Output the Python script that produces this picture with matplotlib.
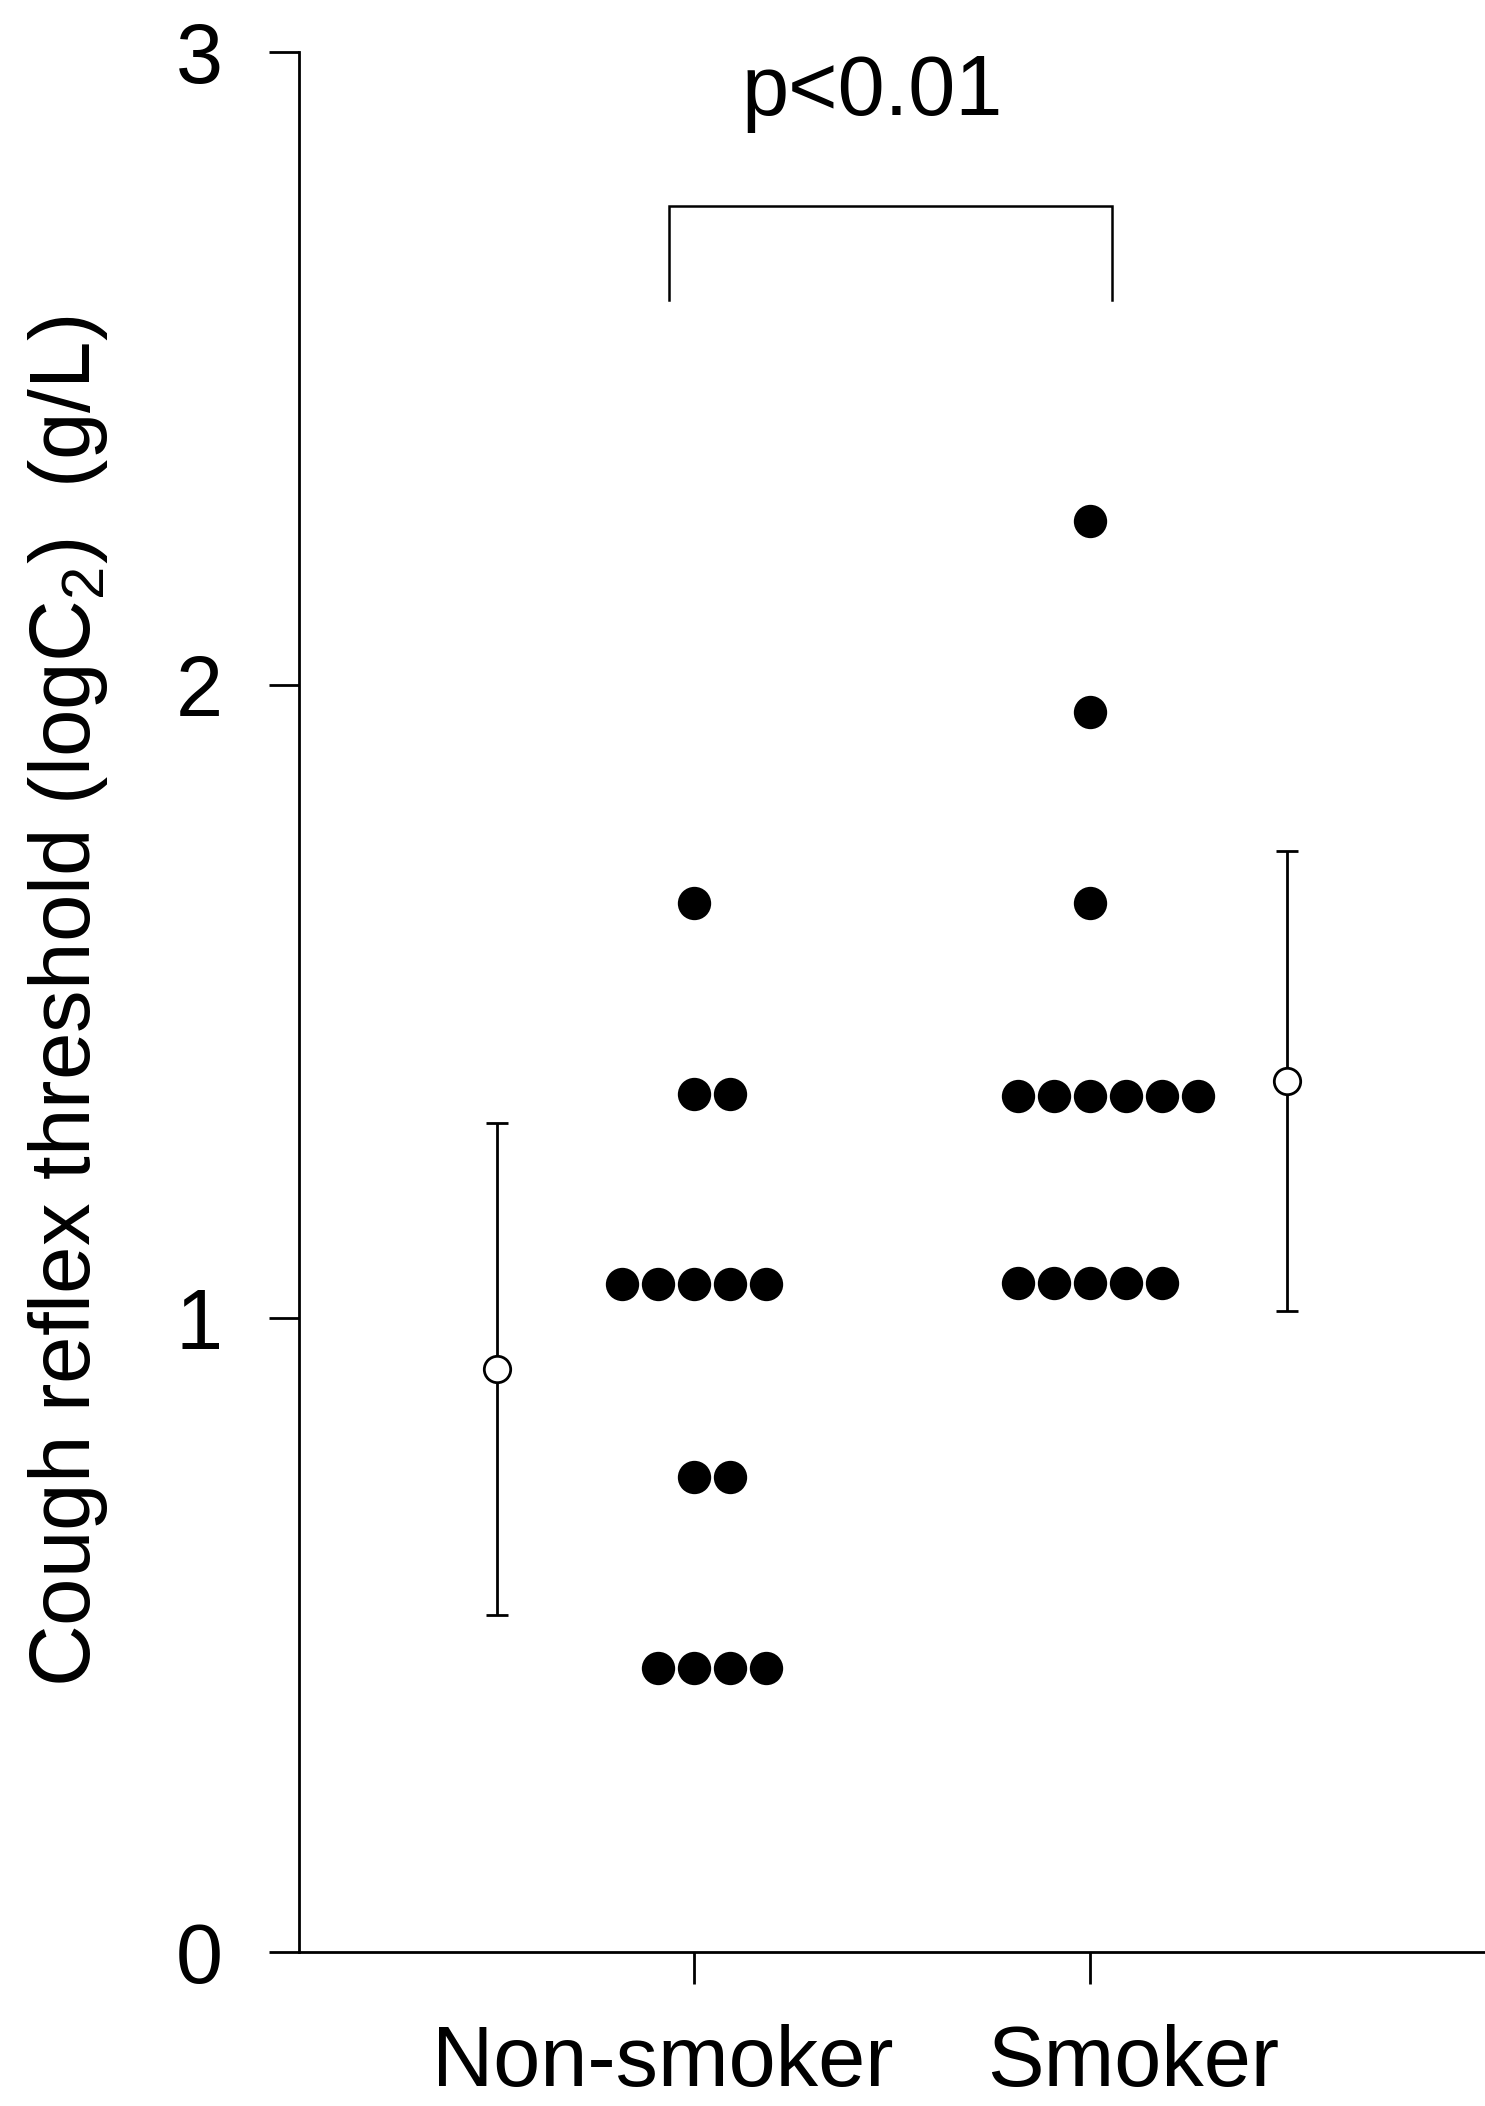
import numpy as np
import matplotlib
matplotlib.use("Agg")
import matplotlib.pyplot as plt
from matplotlib.transforms import ScaledTranslation

# ---- data ----
categories = ["Non-smoker", "Smoker"]
nonsmoker_vals = [1.656,
                  1.354, 1.354,
                  1.054, 1.054, 1.054, 1.054, 1.054,
                  0.749, 0.749,
                  0.448, 0.448, 0.448, 0.448]
smoker_vals = [2.259,
               1.957,
               1.656,
               1.352, 1.352, 1.352, 1.352, 1.352, 1.352,
               1.056, 1.056, 1.056, 1.056, 1.056]
group_means = [0.92, 1.375]
group_sds = [0.388, 0.363]
yticks = [0, 1, 2, 3]
p_text = "p<0.01"

plt.rcParams['font.family'] = ['Liberation Sans', 'DejaVu Sans']
plt.rcParams['mathtext.fontset'] = 'custom'
plt.rcParams['mathtext.rm'] = 'Liberation Sans'

fig = plt.figure(figsize=(14.85, 21.06), dpi=100)
ax = fig.add_axes([0.2013, 0.0733, 0.7987, 0.9020])

cat_pos = np.arange(1, len(categories) + 1)
step = 0.091


def swarm_x(vals, center):
    vals = np.asarray(vals)
    xs = np.zeros(len(vals))
    for v in np.unique(vals):
        idx = np.where(vals == v)[0]
        n = len(idx)
        start = -((n - 1) // 2)
        xs[idx] = center + step * (np.arange(n) + start)
    return xs


for vals, c in zip([nonsmoker_vals, smoker_vals], cat_pos):
    ax.plot(swarm_x(vals, c), vals, 'o', color='black', ms=24,
            mec='black', mew=0, linestyle='none', zorder=3)

# mean +/- SD markers placed beside each group
mean_x = [cat_pos[0] - 0.5, cat_pos[1] + 0.5]
ax.errorbar(mean_x, group_means, yerr=group_sds, fmt='o', color='black',
            ecolor='black', elinewidth=2.0, capsize=8, capthick=2.0,
            ms=19, mfc='white', mec='black', mew=2.0, zorder=4)

# significance bracket
bx0, bx1 = 0.936, 2.057
by_top, by_bot = 2.757, 2.608
ax.plot([bx0, bx0, bx1, bx1], [by_bot, by_top, by_top, by_bot],
        color='black', lw=1.8, solid_joinstyle='miter')
ax.text(1.45, 2.90, p_text, ha='center', va='baseline', fontsize=61)

ax.set_xlim(0, 3)
ax.set_ylim(0, 3)
ax.set_yticks(yticks)
ax.set_yticklabels([str(t) for t in yticks])
ax.set_xticks(cat_pos)
ax.set_xticklabels(categories)

for s in ['top', 'right']:
    ax.spines[s].set_visible(False)
for s in ['left', 'bottom']:
    ax.spines[s].set_linewidth(2.0)

ax.tick_params(axis='y', direction='out', length=21.6, width=2.0,
               labelsize=61, pad=33)
ax.tick_params(axis='x', direction='out', length=23, width=2.0,
               labelsize=61, pad=29)

offsets = [-0.32, 0.44]
for lab, off in zip(ax.get_xticklabels(), offsets):
    lab.set_transform(lab.get_transform() + ScaledTranslation(off, 0, fig.dpi_scale_trans))

ax.set_ylabel(r"Cough reflex threshold (logC$_{\mathregular{2}}$)  (g/L)",
              fontsize=61.5, va='baseline')
ax.yaxis.set_label_coords(-0.176, 0.5)

fig.savefig("out.png", dpi=100, facecolor='white')
